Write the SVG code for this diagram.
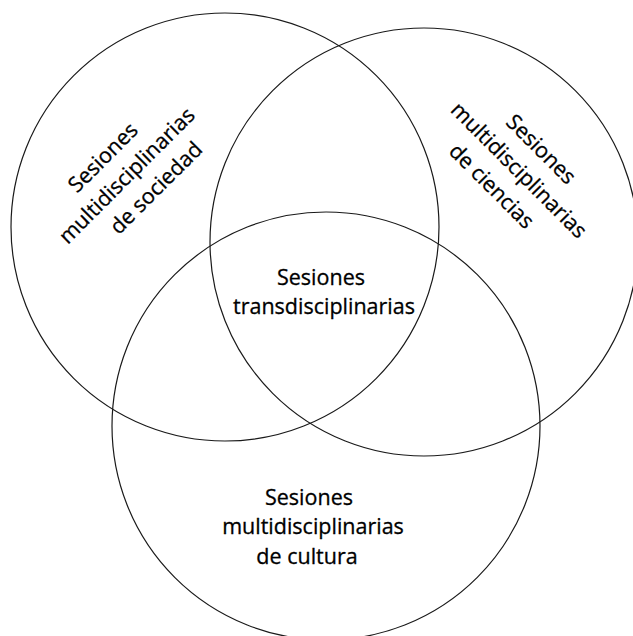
<svg xmlns="http://www.w3.org/2000/svg" width="633" height="636" viewBox="0 0 633 636">
<style>
.c{fill:none;stroke:#1a1a1a;stroke-width:1.2}
.t{font-family:"Open Sans","Noto Sans",sans-serif;font-size:21.5px;fill:#000;stroke:#000;stroke-width:0.3;text-anchor:middle}
</style>
<rect width="633" height="636" fill="#fff"/>
<g id="connectors"></g>
<g id="sociedad">
<circle class="c" cx="225" cy="227" r="214"/>
<g transform="translate(128,174) rotate(-45)">
<text class="t" x="-6" y="-22">Sesiones</text>
<text class="t" x="-2" y="7.5">multidisciplinarias</text>
<text class="t" x="10" y="37">de sociedad</text>
</g>
</g>
<g id="ciencias">
<circle class="c" cx="424" cy="242" r="214"/>
<g transform="translate(519,170) rotate(45)">
<text class="t" x="1" y="-23">Sesiones</text>
<text class="t" x="0" y="7.5">multidisciplinarias</text>
<text class="t" x="-8" y="38">de ciencias</text>
</g>
</g>
<g id="cultura">
<circle class="c" cx="326" cy="426" r="214"/>
<text class="t" x="309" y="505">Sesiones</text>
<text class="t" x="313" y="534">multidisciplinarias</text>
<text class="t" x="307" y="564">de cultura</text>
</g>
<g id="trans">
<text class="t" x="321" y="285">Sesiones</text>
<text class="t" x="324" y="314">transdisciplinarias</text>
</g>
</svg>
